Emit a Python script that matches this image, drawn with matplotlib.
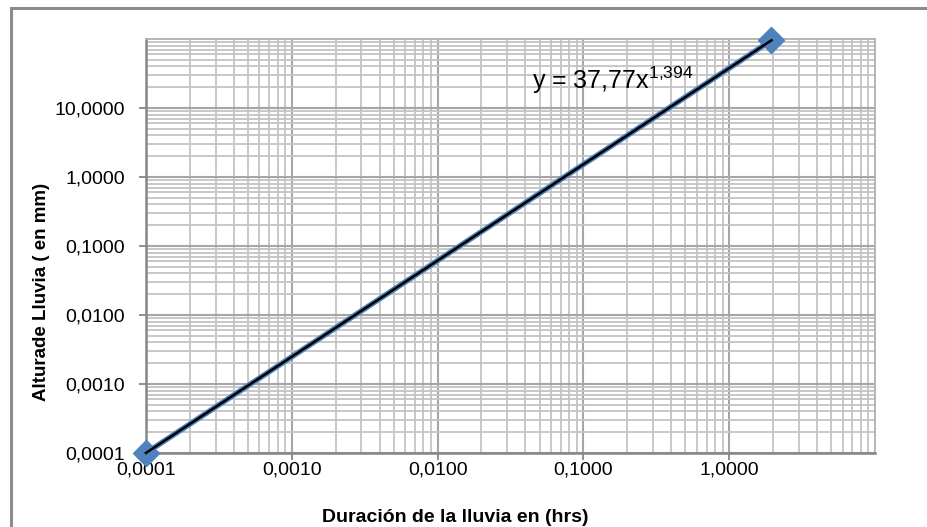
import matplotlib
matplotlib.use("Agg")
import matplotlib.pyplot as plt
import numpy as np
from matplotlib.ticker import FixedLocator, FuncFormatter, LogLocator, NullFormatter
from matplotlib.patches import Rectangle

# Data
duracion = [0.0001, 1.95]
altura = [0.0001, 95.8]
coef_a = 37.77
coef_b = 1.394
x_ticks = [0.0001, 0.001, 0.01, 0.1, 1.0]
y_ticks = [0.0001, 0.001, 0.01, 0.1, 1.0, 10.0]

plt.rcParams['font.family'] = ['Liberation Sans', 'DejaVu Sans']

W, H = 928, 527
fig = plt.figure(figsize=(W / 100, H / 100), dpi=100)
L, R, T, B = 146, 875, 39, 453
ax = fig.add_axes([L / W, 1 - B / H, (R - L) / W, (B - T) / H])

ax.set_xscale('log')
ax.set_yscale('log')
ax.set_xlim(1e-4, 10)
ax.set_ylim(1e-4, 100)

# grid
ax.xaxis.set_minor_locator(LogLocator(base=10, subs=np.arange(2, 10)))
ax.yaxis.set_minor_locator(LogLocator(base=10, subs=np.arange(2, 10)))
ax.xaxis.set_minor_formatter(NullFormatter())
ax.yaxis.set_minor_formatter(NullFormatter())
ax.grid(True, which='minor', color='#c4c4c4', linewidth=1.3)
ax.grid(True, which='major', color='#a6a6a6', linewidth=1.5)
ax.set_axisbelow(True)

ax.xaxis.set_major_locator(FixedLocator(x_ticks))
ax.yaxis.set_major_locator(FixedLocator(y_ticks))
fmt = FuncFormatter(lambda v, p: f"{v:.4f}".replace('.', ','))
ax.xaxis.set_major_formatter(fmt)
ax.yaxis.set_major_formatter(fmt)
ax.tick_params(which='major', direction='out', length=5, width=1.3, color='#868686',
               labelsize=14, labelcolor='#000000')
ax.tick_params(axis='x', which='major', pad=1)
ax.tick_params(axis='y', which='major', pad=10)
ax.tick_params(which='minor', length=0)

for s in ['left', 'bottom']:
    ax.spines[s].set_color('#868686')
    ax.spines[s].set_linewidth(1.8)
for s in ['top', 'right']:
    ax.spines[s].set_color('#b0b0b0')
    ax.spines[s].set_linewidth(1.3)

# data series
ax.plot(duracion, altura, color='#4f81bd', linewidth=4, marker='D', markersize=13,
        markerfacecolor='#4f81bd', markeredgecolor='#4f81bd', zorder=3, clip_on=False)
# trendline
xt = np.array([duracion[0], duracion[-1]])
ax.plot(xt, coef_a * xt ** coef_b, color='black', linewidth=1.8, zorder=4, clip_on=False)

ax.text((532 - L) / (R - L), (B - 80) / (B - T), r"y = 37,77x$^{\mathregular{1{,}394}}$",
        transform=ax.transAxes, fontsize=18, color='black', ha='left', va='center')

ax.set_xlabel("Duración de la lluvia en (hrs)", fontsize=14, fontweight='bold')
ax.set_ylabel("Alturade Lluvia ( en mm)", fontsize=13.5, fontweight='bold')
ax.xaxis.set_label_coords((455 - L) / (R - L), -(517 - B) / (B - T))
ax.yaxis.set_label_coords(-(L - 42) / (R - L), (B - 292) / (B - T))
ax.xaxis.label.set_va('center')
ax.yaxis.label.set_va('center')

# chart border
fig.patches.append(Rectangle((11 / W, -0.1), 1.2, 1 - 8 / H + 0.1, transform=fig.transFigure,
                             fill=False, edgecolor='#8c8c8c', linewidth=2.2))

fig.savefig('out.png', dpi=100)
